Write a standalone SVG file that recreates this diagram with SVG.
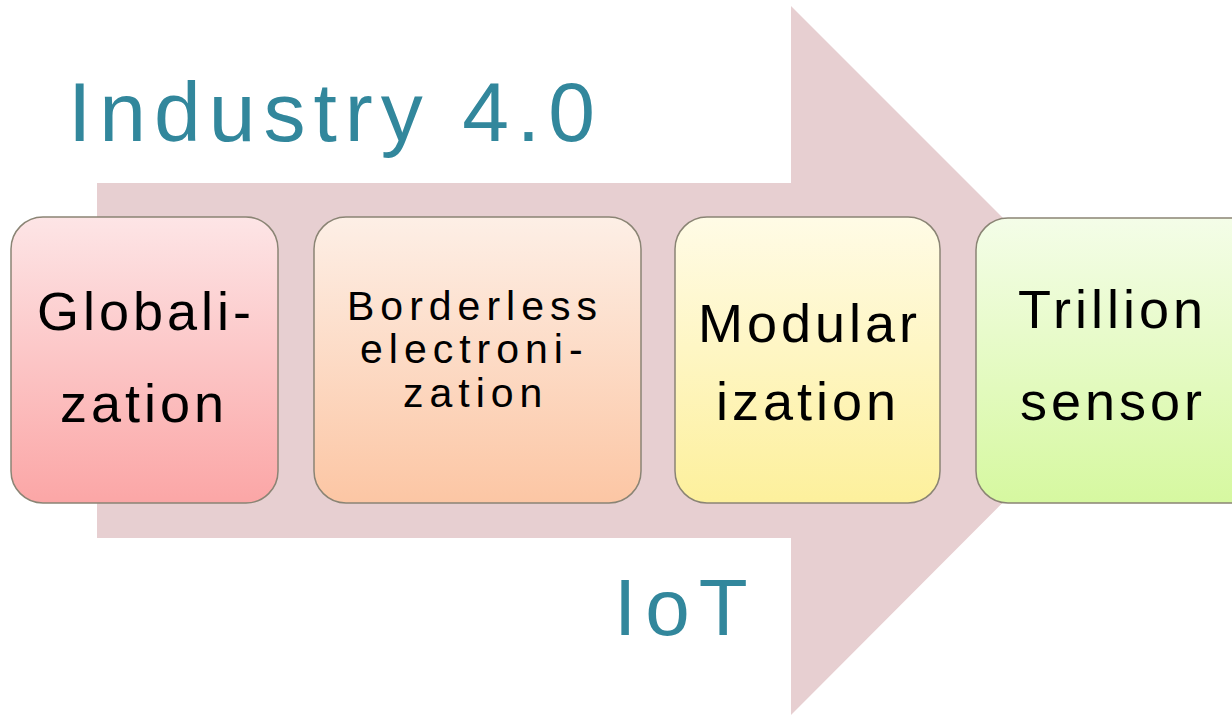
<svg xmlns="http://www.w3.org/2000/svg" width="1232" height="715" viewBox="0 0 1232 715">
  <defs>
    <linearGradient id="g1" x1="0" y1="0" x2="0" y2="1">
      <stop offset="0" stop-color="#fde5e6"/>
      <stop offset="1" stop-color="#fba6a6"/>
    </linearGradient>
    <linearGradient id="g2" x1="0" y1="0" x2="0" y2="1">
      <stop offset="0" stop-color="#fdefe6"/>
      <stop offset="1" stop-color="#fcc6a4"/>
    </linearGradient>
    <linearGradient id="g3" x1="0" y1="0" x2="0" y2="1">
      <stop offset="0" stop-color="#fffbe6"/>
      <stop offset="1" stop-color="#fdf09c"/>
    </linearGradient>
    <linearGradient id="g4" x1="0" y1="0" x2="0" y2="1">
      <stop offset="0" stop-color="#f4fde8"/>
      <stop offset="1" stop-color="#d6f8a0"/>
    </linearGradient>
  </defs>
  <style>
    .box { stroke: #8a8474; stroke-width: 1.5; }
    .lbl { font-family: "Liberation Sans", Arial, sans-serif; fill: #000; font-size: 54px; letter-spacing: 4px; }
    .lbl.small { font-size: 41px; letter-spacing: 6px; }
    .title { font-family: "Liberation Sans", Arial, sans-serif; fill: #32879c; }
  </style>

  <rect width="1232" height="715" fill="#ffffff"/>

  <!-- Big progress arrow behind the stages -->
  <g id="arrow">
    <polygon points="97,183 791,183 791,6 1145,360 791,715 791,538 97,538" fill="#e7cfd1"/>
  </g>

  <text class="title" x="68" y="141" font-size="84" letter-spacing="8">Industry 4.0</text>
  <text class="title" x="614" y="635" font-size="80" letter-spacing="9">IoT</text>

  <g id="stage-globalization">
    <rect class="box" x="11" y="217" width="267" height="286" rx="32" fill="url(#g1)"/>
    <text class="lbl" x="37" y="330">Globali-</text>
    <text class="lbl" x="60" y="422">zation</text>
  </g>

  <g id="stage-electronization">
    <rect class="box" x="314" y="217" width="327" height="286" rx="32" fill="url(#g2)"/>
    <text class="lbl small" x="347" y="320">Borderless</text>
    <text class="lbl small" x="360" y="363">electroni-</text>
    <text class="lbl small" x="403" y="407">zation</text>
  </g>

  <g id="stage-modularization">
    <rect class="box" x="675" y="217" width="265" height="286" rx="32" fill="url(#g3)"/>
    <text class="lbl" x="698" y="342">Modular</text>
    <text class="lbl" x="716" y="420">ization</text>
  </g>

  <g id="stage-sensor">
    <rect class="box" x="976" y="218" width="290" height="285" rx="32" fill="url(#g4)"/>
    <text class="lbl" x="1018" y="328">Trillion</text>
    <text class="lbl" x="1020" y="420">sensor</text>
  </g>

  <g id="connectors"/>
</svg>
